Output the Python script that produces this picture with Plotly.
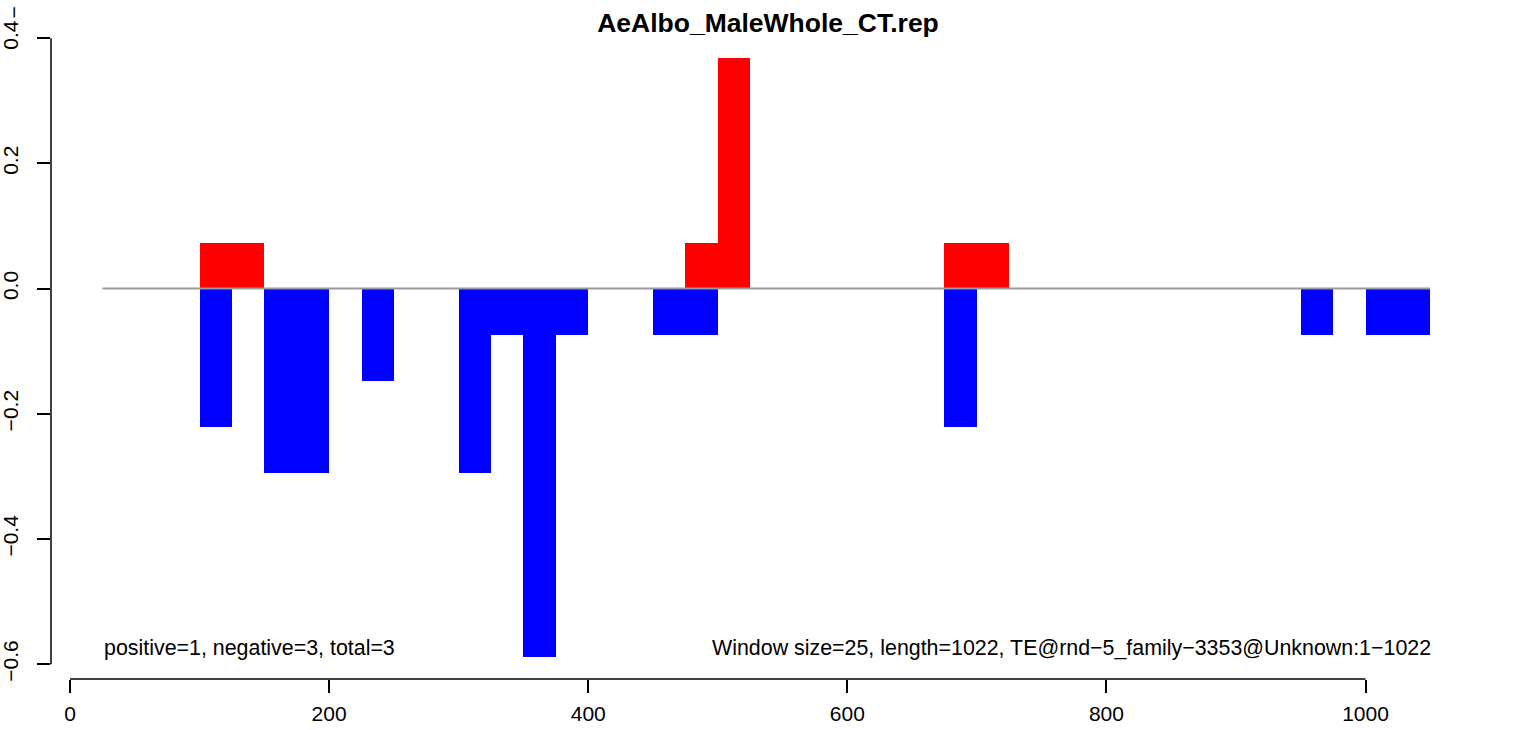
import plotly.graph_objects as go

# window starts (size 25) and scores
pos_start = [100, 125, 475, 500, 675, 700]
pos_value = [0.0736, 0.0736, 0.0736, 0.368, 0.0736, 0.0736]

neg_start = [100, 150, 175, 225, 300, 325, 350, 375, 450, 475, 675, 950, 1000, 1025]
neg_value = [-0.2208, -0.2944, -0.2944, -0.1472, -0.2944, -0.0736, -0.5888, -0.0736,
             -0.0736, -0.0736, -0.2208, -0.0736, -0.0736, -0.0736]

window = 25
baseline_x = [25, 1050]
baseline_y = [0, 0]

x_ticks = [0, 200, 400, 600, 800, 1000]
y_ticks = [-0.6, -0.4, -0.2, 0.0, 0.2, 0.4]
y_labels = ["\u22120.6", "\u22120.4", "\u22120.2", "0.0", "0.2", "0.4"]

font = "Liberation Sans, Arial, Helvetica, sans-serif"

fig = go.Figure()
fig.add_trace(go.Bar(x=neg_start, y=neg_value, width=window, offset=0,
                     marker=dict(color="#0000FF", line=dict(width=0))))
fig.add_trace(go.Bar(x=pos_start, y=pos_value, width=window, offset=0,
                     marker=dict(color="#FF0000", line=dict(width=0))))
fig.add_trace(go.Scatter(x=baseline_x, y=baseline_y, mode="lines",
                         line=dict(color="#9a9a9a", width=2)))

fig.update_layout(
    width=1536, height=730,
    margin=dict(l=51, r=50, t=34, b=51, autoexpand=False),
    plot_bgcolor="white", paper_bgcolor="white",
    showlegend=False, barmode="overlay", bargap=0,
    font=dict(family=font, size=21, color="black"),
    title=dict(text="<b>AeAlbo_MaleWhole_CT.rep</b>", x=0.5, xanchor="center",
               y=1 - 23 / 730, yanchor="middle", font=dict(size=26.5)),
)

fig.update_xaxes(range=[-14.7, 1093], tickvals=x_ticks, ticks="outside", ticklen=13,
                 tickwidth=1.5, tickcolor="black", showline=False, showgrid=False,
                 zeroline=False, ticklabelstandoff=3, automargin=False)
fig.update_yaxes(range=[-0.6236, 0.4067], tickvals=y_ticks, ticktext=y_labels,
                 ticks="outside", ticklen=13, tickwidth=1.5, tickcolor="black",
                 tickangle=-90, showline=False, showgrid=False, zeroline=False,
                 ticklabelstandoff=11, automargin=False)

# R-style axis lines spanning only the tick range
fig.add_shape(type="line", xref="x", yref="paper", x0=0, x1=1000, y0=0, y1=0,
              line=dict(color="black", width=1.5))
fig.add_shape(type="line", xref="paper", yref="y", x0=0, x1=0, y0=-0.6, y1=0.4,
              line=dict(color="black", width=1.5))

fig.add_annotation(x=25, y=-0.574, xref="x", yref="y", text="positive=1, negative=3, total=3",
                   showarrow=False, xanchor="left", yanchor="middle", font=dict(size=21.4))
fig.add_annotation(x=1050, y=-0.574, xref="x", yref="y", xshift=3,
                   text="Window size=25, length=1022, TE@rnd\u22125_family\u22123353@Unknown:1\u22121022",
                   showarrow=False, xanchor="right", yanchor="middle", font=dict(size=21.4))
fig.add_annotation(x=0, y=1, xref="paper", yref="paper", xshift=-52, yshift=29,
                   text="\u2212", textangle=-90, showarrow=False, font=dict(size=21))

fig.write_html("out.html", config={"displayModeBar": False},
               post_script="document.body.style.margin='0';")
